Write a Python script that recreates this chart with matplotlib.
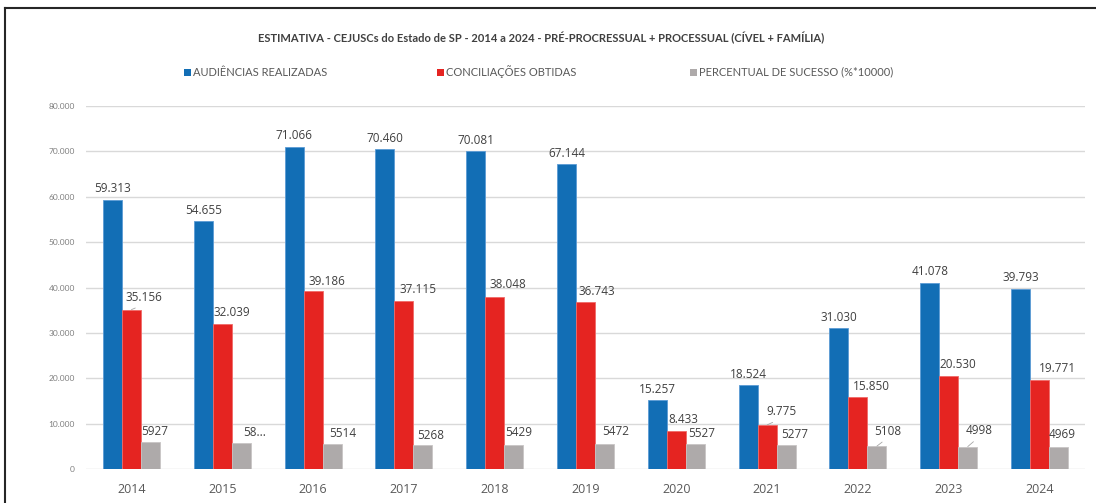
import numpy as np
import matplotlib
matplotlib.use('Agg')
import matplotlib.pyplot as plt
from matplotlib.patches import Rectangle
from matplotlib.lines import Line2D

anos = ['2014', '2015', '2016', '2017', '2018', '2019', '2020', '2021', '2022', '2023', '2024']
audiencias = [59313, 54655, 71066, 70460, 70081, 67144, 15257, 18524, 31030, 41078, 39793]
conciliacoes = [35156, 32039, 39186, 37115, 38048, 36743, 8433, 9775, 15850, 20530, 19771]
percentual = [5927, 5864, 5514, 5268, 5429, 5472, 5527, 5277, 5108, 4998, 4969]
rot_percentual = ['5927', '58...', '5514', '5268', '5429', '5472', '5527', '5277', '5108', '4998', '4969']

series_nomes = ['AUDIÊNCIAS REALIZADAS', 'CONCILIAÇÕES OBTIDAS', 'PERCENTUAL DE SUCESSO (%*10000)']
titulo = 'ESTIMATIVA - CEJUSCs do Estado de SP - 2014 a 2024 - PRÉ-PROCRESSUAL + PROCESSUAL (CÍVEL + FAMÍLIA)'

AZUL = '#126EB5'
VERM = '#E52421'
CINZA = '#AEAAAA'
TXT = '#404040'

# label offsets in pixels (dx, dy) from top centre of each bar
off_red = [(13, 12), (10, 11), (14, 10), (14, 11), (13, 12), (11, 11), (7, 12), (14, 13), (13, 11), (9, 12), (18, 11)]
off_gray = [(4, 11), (13, 10), (11, 11), (8, 10), (5, 12), (11, 13), (6, 11), (9, 11), (11, 15), (11, 16), (4, 12)]
leader_red = [0, 7]
leader_gray = [8, 9]

W, H = 1096, 503
fig = plt.figure(figsize=(W / 100, H / 100), dpi=100)
ax = fig.add_axes([86 / W, (H - 469.3) / H, (1085 - 86) / W, (469.3 - 106) / H])

x = np.arange(len(anos))
bw = 0.209
ax.bar(x - bw, audiencias, bw, color=AZUL, edgecolor='#5B9BD5', linewidth=0.6, zorder=3)
ax.bar(x, conciliacoes, bw, color=VERM, edgecolor='#F06A68', linewidth=0.6, zorder=3)
ax.bar(x + bw, percentual, bw, color=CINZA, edgecolor='#C8C5C5', linewidth=0.6, zorder=3)

ax.set_xlim(-0.5, len(anos) - 0.5)
ax.set_ylim(0, 80000)
yt = np.arange(0, 80001, 10000)
ax.set_yticks(yt)
ax.set_yticklabels([f'{v:,}'.replace(',', '.') for v in yt], fontsize=6, color='#7F7F7F', family='Lato')
ax.set_xticks(x)
ax.set_xticklabels(anos, fontsize=9, color='#595959', family='Open Sans')
ax.tick_params(axis='both', length=0)
ax.tick_params(axis='y', pad=8)
ax.tick_params(axis='x', pad=10)
for s in ax.spines.values():
    s.set_visible(False)
ax.grid(axis='y', color='#D9D9D9', linewidth=1.0, zorder=0)
ax.set_axisbelow(True)

fmt = lambda v: f'{v:,}'.replace(',', '.')

for i, v in enumerate(audiencias):
    ax.annotate(fmt(v), (x[i] - bw, v), xytext=(0, 11), textcoords='offset pixels',
                ha='center', va='center', fontsize=8.5, color=TXT, family='Open Sans')

for i, v in enumerate(conciliacoes):
    dx, dy = off_red[i]
    ap = None
    if i in leader_red:
        ap = dict(arrowstyle='-', color='#A6A6A6', lw=0.6, relpos=(0.5, 0.0), shrinkA=2, shrinkB=0)
    ax.annotate(fmt(v), (x[i], v), xytext=(dx, dy), textcoords='offset pixels',
                ha='center', va='center', fontsize=8.5, color=TXT, family='Open Sans',
                arrowprops=ap)

for i, v in enumerate(percentual):
    dx, dy = off_gray[i]
    ap = None
    if i in leader_gray:
        ap = dict(arrowstyle='-', color='#A6A6A6', lw=0.6, relpos=(0.5, 0.0), shrinkA=2, shrinkB=0)
    ax.annotate(rot_percentual[i], (x[i] + bw, v), xytext=(dx, dy), textcoords='offset pixels',
                ha='center', va='center', fontsize=8.5, color=TXT, family='Open Sans',
                arrowprops=ap)

# title
fig.text(541 / W, 1 - 38 / H, titulo, ha='center', va='center', fontsize=8,
         fontweight='bold', color='#404040', family='Lato')

# legend
leg_x = [184, 437, 690]
for lx, nome, cor in zip(leg_x, series_nomes, [AZUL, VERM, CINZA]):
    fig.add_artist(Rectangle((lx / W, 1 - 75.5 / H), 7 / W, 7 / H, transform=fig.transFigure,
                             facecolor=cor, edgecolor='none'))
    fig.text((lx + 9) / W, 1 - 72 / H, nome, ha='left', va='center', fontsize=8,
             color='#595959', family='Lato')

# frame lines
fig.add_artist(Line2D([5 / W, 1], [1 - 8 / H, 1 - 8 / H], transform=fig.transFigure, color='#262626', lw=1.5))
fig.add_artist(Line2D([5 / W, 5 / W], [0, 1 - 8 / H], transform=fig.transFigure, color='#262626', lw=1.5))

fig.savefig('out.png', dpi=100)
